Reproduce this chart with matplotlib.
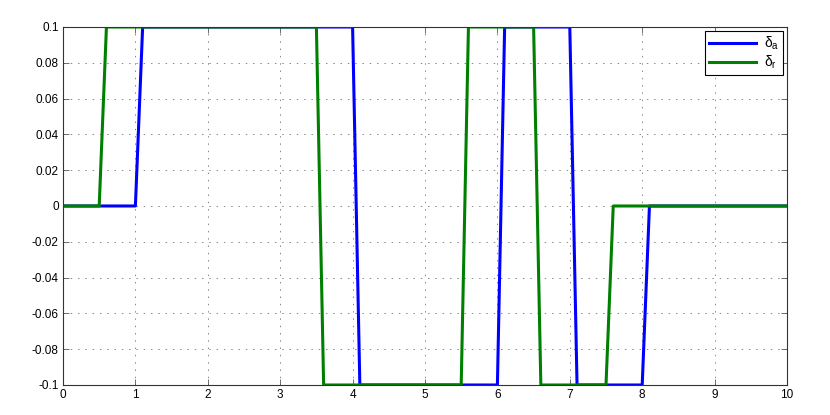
import matplotlib
matplotlib.use("Agg")
import matplotlib.pyplot as plt

# breakpoints of the two control signals (time in s, deflection)
t_a = [0, 1.0, 1.1, 4.0, 4.1, 6.0, 6.1, 7.0, 7.1, 8.0, 8.1, 10]
delta_a = [0, 0, 0.1, 0.1, -0.1, -0.1, 0.1, 0.1, -0.1, -0.1, 0, 0]

t_r = [0, 0.5, 0.6, 3.5, 3.6, 5.5, 5.6, 6.5, 6.6, 7.5, 7.6, 10]
delta_r = [0, 0, 0.1, 0.1, -0.1, -0.1, 0.1, 0.1, -0.1, -0.1, 0, 0]

xticks = [0, 1, 2, 3, 4, 5, 6, 7, 8, 9, 10]
yticks = [-0.1, -0.08, -0.06, -0.04, -0.02, 0, 0.02, 0.04, 0.06, 0.08, 0.1]
ytick_labels = ["-0.1", "-0.08", "-0.06", "-0.04", "-0.02", "0",
                "0.02", "0.04", "0.06", "0.08", "0.1"]

plt.rcParams['font.family'] = ['Liberation Sans', 'DejaVu Sans']

fig = plt.figure(figsize=(8.3, 4.15), dpi=100)
ax = fig.add_axes([0.0759, 0.0723, 0.8723, 0.8627])

ax.plot(t_a, delta_a, color='#0000ff', lw=2.2, label=r'$\mathregular{\delta_a}$')
ax.plot(t_r, delta_r, color='#008000', lw=2.2, label=r'$\mathregular{\delta_r}$')

ax.set_xlim(0, 10)
ax.set_ylim(-0.1, 0.1)
ax.set_xticks(xticks)
ax.set_yticks(yticks)
ax.set_yticklabels(ytick_labels)
ax.tick_params(direction='in', top=True, right=True, labelsize=8.5,
               length=4, width=0.6, color='#555555', pad=3)
ax.grid(True, linestyle=(0, (1.5, 6)), color='#888888', linewidth=0.7)
for s in ax.spines.values():
    s.set_linewidth(0.8)
    s.set_color('#333333')

leg = ax.legend(loc='upper right', fancybox=False, edgecolor='black',
                fontsize=10, handlelength=3.4, handletextpad=0.6,
                borderaxespad=0.3, borderpad=0.25, labelspacing=0.15,
                framealpha=1)
leg.get_frame().set_linewidth(0.8)

fig.savefig('out.png', dpi=100)
